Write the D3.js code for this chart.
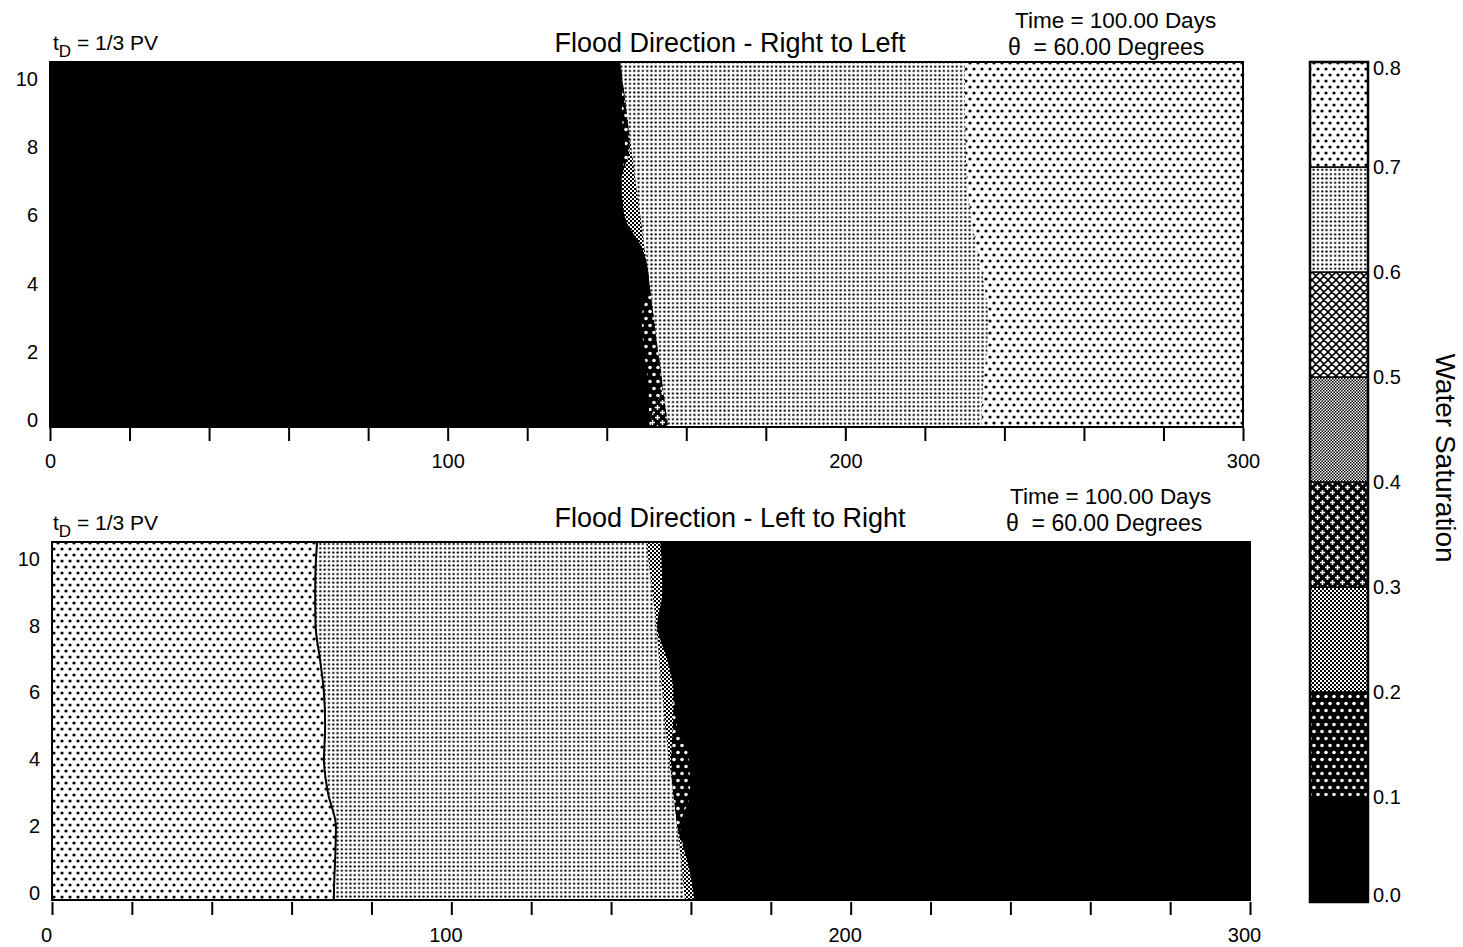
<!DOCTYPE html>
<html>
<head>
<meta charset="utf-8">
<script src="https://cdn.jsdelivr.net/npm/d3@7"></script>
<style>
  html, body { margin: 0; padding: 0; background: #fff; }
  svg { display: block; font-family: "Liberation Sans", Arial, Helvetica, sans-serif; }
  text { fill: #000; }
</style>
</head>
<body>
<svg id="chart" width="1463" height="947"></svg>
<script>
// ---- Axis ticks and legend levels ----
const xTickValues = [0, 20, 40, 60, 80, 100, 120, 140, 160, 180, 200, 220, 240, 260, 280, 300];
const xTickLabels = [0, 100, 200, 300];
const yTickValues = [0, 2, 4, 6, 8, 10];
const saturationLevels = [0.0, 0.1, 0.2, 0.3, 0.4, 0.5, 0.6, 0.7, 0.8];
const legendLabels = ["0.0", "0.1", "0.2", "0.3", "0.4", "0.5", "0.6", "0.7", "0.8"];

// ---- Panel texts ----
const panelTitles = ["Flood Direction - Right to Left", "Flood Direction - Left to Right"];
const timeText = "Time = 100.00 Days";
const angleText = "\u03b8  = 60.00 Degrees";

// ---- Saturation fronts: x (ft) where Sw crosses each level, sampled at these heights (ft) ----
const frontY = [10.5, 10, 9, 8, 7, 6, 5, 4, 3, 2, 1, 0, -0.2];

// Upper panel (water enters from the right; Sw rises with x)
const topS01 = [143.3, 143.9, 143.8, 144.6, 143.7, 144.4, 149.0, 150.7, 148.8, 149.4, 150.5, 150.7, 150.9];
const topS02 = [143.3, 143.9, 145.0, 145.8, 143.7, 144.4, 149.0, 150.7, 151.8, 152.9, 154.0, 151.2, 151.2];
const topS03 = [143.3, 143.9, 145.0, 146.1, 147.2, 148.4, 149.5, 150.7, 151.8, 152.9, 154.0, 151.2, 151.2];
const topS04 = [143.3, 143.9, 145.0, 146.1, 147.2, 148.4, 149.5, 150.7, 151.8, 152.9, 154.0, 155.2, 155.4];
const topS05 = [143.3, 143.9, 145.0, 146.1, 147.2, 148.4, 149.5, 150.7, 151.8, 152.9, 154.0, 155.2, 155.4];
const topS06 = [143.3, 143.9, 145.0, 146.1, 147.2, 148.4, 149.5, 150.7, 151.8, 152.9, 154.0, 155.2, 155.4];
const topS07 = [230.1, 230.1, 230.1, 230.3, 230.6, 231.6, 233.1, 234.9, 235.9, 235.6, 234.6, 234.3, 234.3];

// Lower panel (water enters from the left; Sw falls with x)
const botS01 = [152.3, 152.6, 152.8, 151.55, 154.0, 155.6, 156.5, 159.5, 159.8, 157.3, 159.0, 160.6, 160.8];
const botS02 = [152.3, 152.6, 152.8, 151.55, 154.0, 155.6, 155.5, 155.0, 155.5, 156.5, 159.0, 160.6, 160.8];
const botS03 = [148.8, 149.3, 150.3, 151.3, 152.0, 152.8, 153.5, 154.5, 155.5, 156.5, 157.5, 158.3, 158.5];
const botS04 = [148.8, 149.3, 150.3, 151.3, 152.0, 152.8, 153.5, 154.5, 155.5, 156.5, 157.5, 158.3, 158.5];
const botS05 = [148.8, 149.3, 150.3, 151.3, 152.0, 152.8, 153.5, 154.5, 155.5, 156.5, 157.5, 158.3, 158.5];
const botS06 = [148.8, 149.3, 150.3, 151.3, 152.0, 152.8, 153.5, 154.5, 155.5, 156.5, 157.5, 158.3, 158.5];
const botS07 = [66.4, 66.1, 65.9, 66.0, 67.1, 68.1, 68.4, 68.1, 69.1, 71.1, 70.9, 70.6, 70.6];

const svg = d3.select("#chart");
const defs = svg.append("defs");

// ---- Fill patterns for the eight saturation bands ----
function pattern(id, w, h, bg, draw) {
  const p = defs.append("pattern").attr("id", id)
    .attr("patternUnits", "userSpaceOnUse").attr("width", w).attr("height", h);
  p.append("rect").attr("width", w).attr("height", h).attr("fill", bg);
  draw(p, w, h);
}
function tiledDots(p, w, h, pts, r, color) {
  for (const [cx, cy] of pts)
    for (const dx of [-w, 0, w]) for (const dy of [-h, 0, h])
      p.append("circle").attr("cx", cx + dx).attr("cy", cy + dy).attr("r", r).attr("fill", color);
}
pattern("band0", 4, 4, "#000", () => {});
pattern("band1", 8, 14, "#000", (p, w, h) => tiledDots(p, w, h, [[2, 3.5], [6, 10.5]], 1.8, "#fff"));
pattern("band2", 4, 4, "#000", p => {
  p.append("rect").attr("x", 0).attr("y", 0).attr("width", 2).attr("height", 2).attr("fill", "#fff");
  p.append("rect").attr("x", 2).attr("y", 2).attr("width", 2).attr("height", 2).attr("fill", "#fff");
});
pattern("band3", 10, 10, "#000", (p, w, h) => {
  for (const [cx, cy] of [[2.5, 2.5], [7.5, 7.5]])
    for (const dx of [-w, 0, w]) for (const dy of [-h, 0, h]) {
      p.append("rect").attr("x", cx + dx - 2.5).attr("y", cy + dy - 0.75).attr("width", 5).attr("height", 1.5).attr("fill", "#fff");
      p.append("rect").attr("x", cx + dx - 0.75).attr("y", cy + dy - 2.5).attr("width", 1.5).attr("height", 5).attr("fill", "#fff");
    }
});
pattern("band4", 3, 3, "#fff", p => {
  p.append("rect").attr("x", 0).attr("y", 0).attr("width", 1.5).attr("height", 1.5).attr("fill", "#000");
  p.append("rect").attr("x", 1.5).attr("y", 1.5).attr("width", 1.5).attr("height", 1.5).attr("fill", "#000");
});
pattern("band5", 8, 8, "#fff", p => {
  p.append("path").attr("d", "M-1,-1L9,9M9,-1L-1,9M-1,7L1,9M7,-1L9,1M7,9L9,7M-1,1L1,-1")
    .attr("stroke", "#000").attr("stroke-width", 1.6).attr("fill", "none");
});
pattern("band6", 4.3, 4.3, "#fff", (p, w, h) => tiledDots(p, w, h, [[2.15, 2.15]], 1.15, "#000"));
pattern("band7", 8, 12, "#fff", (p, w, h) => tiledDots(p, w, h, [[2, 3], [6, 9]], 1.6, "#000"));

const bandFill = i => `url(#band${i})`;

// ---- Panels ----
const panels = [
  { title: panelTitles[0], fronts: [topS01, topS02, topS03, topS04, topS05, topS06, topS07],
    rising: true, x0: 50, x1: 1243, yTop: 62, yBot: 427, tdY: 50, titleY: 52, timeY: 28, angleY: 55, infoX: 1015, angleX: 1008,
    tickY: 428, labelY: 467, labelShift: 0, line07: false },
  { title: panelTitles[1], fronts: [botS01, botS02, botS03, botS04, botS05, botS06, botS07],
    rising: false, x0: 52, x1: 1250, yTop: 542, yBot: 900, tdY: 530, titleY: 527, timeY: 504, angleY: 531, infoX: 1010, angleX: 1006,
    tickY: 902, labelY: 946, labelShift: -6, line07: true }
];

panels.forEach((P, pi) => {
  const x = d3.scaleLinear().domain([0, 300]).range([P.x0, P.x1]);
  const y = d3.scaleLinear().domain([-0.2, 10.5]).range([P.yBot, P.yTop]);
  const g = svg.append("g");
  const clipId = "clip" + pi;
  defs.append("clipPath").attr("id", clipId).append("rect")
    .attr("x", P.x0).attr("y", P.yTop).attr("width", P.x1 - P.x0).attr("height", P.yBot - P.yTop);
  const plot = g.append("g").attr("clip-path", `url(#${clipId})`);

  // Region to the left of a front, filled with the band that lies there
  const leftOf = front => d3.area()
    .curve(d3.curveMonotoneY)
    .y((d, i) => y(frontY[i]))
    .x0(x(0))
    .x1((d, i) => x(front[i]))(front);

  if (P.rising) {
    // Background is the wettest band; drier bands are laid down from the left
    plot.append("rect").attr("x", P.x0).attr("y", P.yTop).attr("width", P.x1 - P.x0).attr("height", P.yBot - P.yTop)
      .attr("fill", bandFill(7));
    for (let k = 6; k >= 0; k--)
      plot.append("path").attr("d", leftOf(P.fronts[k])).attr("fill", bandFill(k));
  } else {
    // Background is the driest band; wetter bands are laid down from the left
    plot.append("rect").attr("x", P.x0).attr("y", P.yTop).attr("width", P.x1 - P.x0).attr("height", P.yBot - P.yTop)
      .attr("fill", bandFill(0));
    for (let k = 0; k <= 6; k++)
      plot.append("path").attr("d", leftOf(P.fronts[k])).attr("fill", bandFill(k + 1));
  }

  if (P.line07) {
    const line = d3.line().curve(d3.curveMonotoneY)
      .y((d, i) => y(frontY[i])).x(d => x(d));
    plot.append("path").attr("d", line(P.fronts[6])).attr("fill", "none")
      .attr("stroke", "#000").attr("stroke-width", 2);
  }

  // Frame
  g.append("rect").attr("x", P.x0).attr("y", P.yTop).attr("width", P.x1 - P.x0).attr("height", P.yBot - P.yTop)
    .attr("fill", "none").attr("stroke", "#000").attr("stroke-width", 2);

  // X axis
  const xAxis = d3.axisBottom(x).tickValues(xTickValues).tickSize(13).tickPadding(12.5)
    .tickFormat(d => xTickLabels.includes(d) ? String(d) : "");
  const ax = g.append("g").attr("transform", `translate(0,${P.tickY})`).call(xAxis);
  ax.select(".domain").remove();
  ax.selectAll(".tick line").attr("stroke", "#000").attr("stroke-width", 2);
  ax.selectAll(".tick text").attr("font-size", 20).attr("font-family", "Liberation Sans, Arial, sans-serif")
    .attr("fill", "#000").attr("dx", P.labelShift);

  // Y axis
  const yAxis = d3.axisLeft(y).tickValues(yTickValues).tickSize(0).tickPadding(12);
  const ay = g.append("g").attr("transform", `translate(${P.x0},0)`).call(yAxis);
  ay.select(".domain").remove();
  ay.selectAll(".tick text").attr("font-size", 20).attr("font-family", "Liberation Sans, Arial, sans-serif").attr("fill", "#000");

  // Labels
  const td = g.append("text").attr("x", 53).attr("y", P.tdY).attr("font-size", 21);
  td.append("tspan").text("t");
  td.append("tspan").attr("dy", 7).attr("font-size", 17).text("D");
  td.append("tspan").attr("dy", -7).text(" = 1/3 PV");

  g.append("text").attr("x", 730).attr("y", P.titleY).attr("text-anchor", "middle").attr("font-size", 27).text(P.title);
  g.append("text").attr("x", P.infoX).attr("y", P.timeY).attr("font-size", 22.5).text(timeText);
  g.append("text").attr("x", P.angleX).attr("y", P.angleY).attr("font-size", 23)
    .style("white-space", "pre").text(angleText);
});

// ---- Legend (colour bar of saturation bands) ----
const ly = d3.scaleLinear().domain([0, 0.8]).range([902, 62]);
const lx0 = 1310, lx1 = 1368;
const leg = svg.append("g");
saturationLevels.slice(0, -1).forEach((v, i) => {
  leg.append("rect").attr("x", lx0).attr("y", ly(saturationLevels[i + 1])).attr("width", lx1 - lx0)
    .attr("height", ly(v) - ly(saturationLevels[i + 1])).attr("fill", bandFill(i))
    .attr("stroke", "#000").attr("stroke-width", 1.5);
});
leg.append("rect").attr("x", lx0).attr("y", ly(0.8)).attr("width", lx1 - lx0).attr("height", ly(0) - ly(0.8))
  .attr("fill", "none").attr("stroke", "#000").attr("stroke-width", 2.5);
saturationLevels.forEach((v, i) => {
  const shift = i === saturationLevels.length - 1 ? 6 : (i === 0 ? -7 : 0);
  leg.append("text").attr("x", lx1 + 5).attr("y", ly(v) + shift).attr("dy", "0.35em")
    .attr("font-size", 20).text(legendLabels[i]);
});
leg.append("text").attr("transform", "translate(1436,458) rotate(90)").attr("text-anchor", "middle")
  .attr("font-size", 28).text("Water Saturation");
</script>
</body>
</html>
